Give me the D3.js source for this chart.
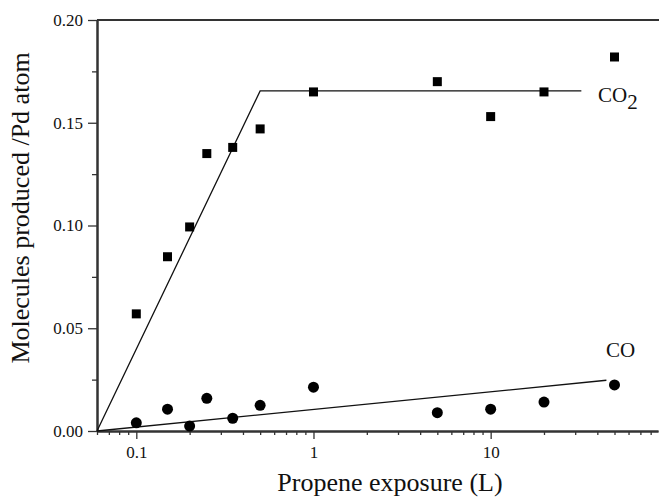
<!DOCTYPE html>
<html><head><meta charset="utf-8">
<script src="https://cdn.jsdelivr.net/npm/d3@7"></script>
<style>body{margin:0;background:#fff}svg text{font-family:"Liberation Serif","Times New Roman",serif}</style>
</head><body><svg id="c" width="659" height="503"></svg>
<script>
const exposureCO2 = [0.1, 0.15, 0.2, 0.25, 0.35, 0.5, 1, 5, 10, 20, 50];
const valuesCO2   = [0.057, 0.0848, 0.0993, 0.135, 0.138, 0.147, 0.165, 0.170, 0.153, 0.165, 0.182];
const exposureCO  = [0.1, 0.15, 0.2, 0.25, 0.35, 0.5, 1, 5, 10, 20, 50];
const valuesCO    = [0.0040, 0.0106, 0.0024, 0.0159, 0.0062, 0.0125, 0.0213, 0.0089, 0.0106, 0.0141, 0.0224];
const fitCO2 = [[0.06, 0], [0.5, 0.1655], [32.5, 0.1655]];
const fitCO  = [[0.06, 0], [45, 0.0247]];
const xTicks = [0.1, 1, 10];
const xTickLabels = ["0.1", "1", "10"];
const yTicks = [0, 0.05, 0.10, 0.15, 0.20];
const yTickLabels = ["0.00", "0.05", "0.10", "0.15", "0.20"];
const yMinorTicks = [0.025, 0.075, 0.125, 0.175];

const svg = d3.select("#c");
const L = 97, R = 658, T = 20, B = 431;
const x = d3.scaleLog().domain([0.06, 88]).range([L, R]);
const y = d3.scaleLinear().domain([0, 0.2]).range([B, T]);
const axisColor = "#333";

// top frame line
svg.append("line").attr("x1", L).attr("x2", R + 1).attr("y1", T).attr("y2", T)
  .attr("stroke", axisColor).attr("stroke-width", 2);

// x minor ticks
const minorX = [];
for (let d = 0.01; d <= 10; d *= 10) for (let k = 1; k <= 9; k++) {
  const v = +(d * k).toPrecision(3);
  if (v >= 0.06 && v <= 88 && !xTicks.includes(v)) minorX.push(v);
}
function styleAxis(g) {
  g.selectAll("path.domain").attr("stroke", axisColor).attr("stroke-width", 2);
  g.selectAll("line").attr("stroke", axisColor).attr("stroke-width", 1.3);
  g.selectAll("text").style("font-size", "17px").style("font-family", '"Liberation Serif", serif').attr("fill", "#111");
}
const xMinorG = svg.append("g").attr("transform", `translate(0,${B})`)
  .call(d3.axisBottom(x).tickValues(minorX).tickSize(4).tickFormat("").tickSizeOuter(0));
styleAxis(xMinorG);
const xAxisG = svg.append("g").attr("transform", `translate(0,${B})`)
  .call(d3.axisBottom(x).tickValues(xTicks).tickSize(8).tickPadding(7).tickFormat((d,i)=>xTickLabels[i]).tickSizeOuter(0));
styleAxis(xAxisG);

const yMinorG = svg.append("g").attr("transform", `translate(${L},0)`)
  .call(d3.axisLeft(y).tickValues(yMinorTicks).tickSize(5).tickFormat("").tickSizeOuter(0));
styleAxis(yMinorG);
const yAxisG = svg.append("g").attr("transform", `translate(${L},0)`)
  .call(d3.axisLeft(y).tickValues(yTicks).tickSize(9).tickPadding(5).tickFormat((d,i)=>yTickLabels[i]).tickSizeOuter(0));
styleAxis(yAxisG);

// fit lines
const line = d3.line().x(d => x(d[0])).y(d => y(d[1]));
svg.append("path").datum(fitCO2).attr("d", line).attr("fill", "none").attr("stroke", "#111").attr("stroke-width", 1.3);
svg.append("path").datum(fitCO).attr("d", line).attr("fill", "none").attr("stroke", "#111").attr("stroke-width", 1.3);

// markers
const s = 9;
svg.append("g").selectAll("rect").data(exposureCO2).join("rect")
  .attr("x", d => x(d) - s/2).attr("y", (d,i) => y(valuesCO2[i]) - s/2)
  .attr("width", s).attr("height", s).attr("fill", "#000");
svg.append("g").selectAll("circle").data(exposureCO).join("circle")
  .attr("cx", d => x(d)).attr("cy", (d,i) => y(valuesCO[i])).attr("r", 5.5).attr("fill", "#000");

// series labels
const co2 = svg.append("text").attr("x", 598).attr("y", 102).style("font-size", "21px").attr("fill", "#111");
co2.append("tspan").text("CO");
co2.append("tspan").attr("dy", 7).text("2");
svg.append("text").attr("x", 606).attr("y", 357).style("font-size", "21px").attr("fill", "#111").text("CO");

// axis titles
svg.append("text").attr("x", 390).attr("y", 491).attr("text-anchor", "middle")
  .style("font-size", "26px").attr("fill", "#111").text("Propene exposure (L)");
svg.append("text").attr("transform", "translate(29,208) rotate(-90)").attr("text-anchor", "middle")
  .style("font-size", "26px").attr("fill", "#111").text("Molecules produced /Pd atom");
</script></body></html>
